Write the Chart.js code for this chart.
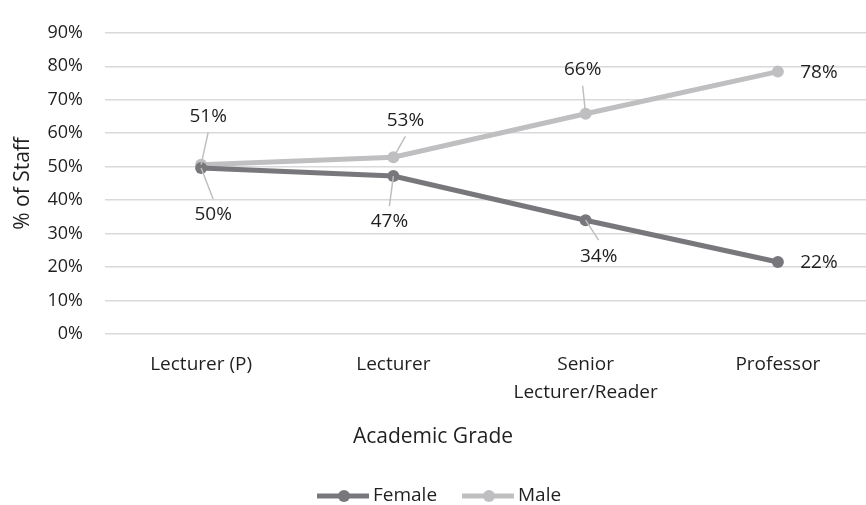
<!DOCTYPE html>
<html>
<head>
<meta charset="utf-8">
<script src="https://cdn.jsdelivr.net/npm/chart.js@4.4.0/dist/chart.umd.min.js"></script>
<style>
  html, body { margin: 0; padding: 0; background: #fff; overflow: hidden; }
  #wrap { width: 866px; height: 505px; overflow: hidden; }
</style>
</head>
<body>
<div id="wrap"><canvas id="chart" width="880" height="505"></canvas></div>
<script>
// chart data
const categories = ['Lecturer (P)', 'Lecturer', ['Senior', 'Lecturer/Reader'], 'Professor'];
const femaleValues = [49.6, 47.2, 34.0, 21.5];
const maleValues = [50.6, 52.8, 65.8, 78.4];
const yTicks = [0, 10, 20, 30, 40, 50, 60, 70, 80, 90];
const xTitle = 'Academic Grade';

const FONT = '"Open Sans", sans-serif';
const TEXT = '#1f1f1f';

// label offsets from each point (dx, dy) and whether a leader line is drawn
const labelPlacement = {
  Female: [[12, 47, true], [-4, 46, true], [13, 36, true], [41, 1, false]],
  Male: [[7, -48, true], [12, -37, true], [-3, -44, true], [41, 1, false]]
};

const pointLabels = {
  id: 'pointLabels',
  afterDatasetsDraw(chart) {
    const ctx = chart.ctx;
    ctx.save();
    ctx.font = '19px ' + FONT;
    ctx.textAlign = 'center';
    ctx.textBaseline = 'middle';
    chart.data.datasets.forEach((ds, i) => {
      const meta = chart.getDatasetMeta(i);
      meta.data.forEach((pt, j) => {
        const [dx, dy, leader] = labelPlacement[ds.label][j];
        const tx = pt.x + dx, ty = pt.y + dy;
        if (leader) {
          const edge = dy < 0 ? ty + 16 : ty - 16;
          ctx.strokeStyle = '#bfbfbf';
          ctx.lineWidth = 1.5;
          ctx.beginPath();
          ctx.moveTo(tx, edge);
          ctx.lineTo(pt.x, pt.y);
          ctx.stroke();
        }
        ctx.fillStyle = TEXT;
        ctx.fillText(Math.round(ds.data[j]) + '%', tx, ty);
      });
    });
    ctx.restore();
  }
};

// x title and legend are centred on the visible picture, not the plot
const bottomParts = {
  id: 'bottomParts',
  afterDraw(chart) {
    const ctx = chart.ctx;
    ctx.save();
    ctx.fillStyle = TEXT;
    ctx.font = '21px ' + FONT;
    ctx.textAlign = 'center';
    ctx.textBaseline = 'middle';
    ctx.fillText(xTitle, 433, 437);

    const y = 496;
    const starts = [317, 462];
    ctx.font = '19px ' + FONT;
    ctx.textAlign = 'left';
    chart.data.datasets.forEach((ds, i) => {
      const x = starts[i];
      ctx.strokeStyle = ds.borderColor;
      ctx.lineWidth = 5;
      ctx.beginPath();
      ctx.moveTo(x, y);
      ctx.lineTo(x + 52, y);
      ctx.stroke();
      ctx.fillStyle = ds.borderColor;
      ctx.beginPath();
      ctx.arc(x + 27, y, 6, 0, Math.PI * 2);
      ctx.fill();
      ctx.fillStyle = TEXT;
      ctx.fillText(ds.label, x + 56, y);
    });
    ctx.restore();
  }
};

new Chart(document.getElementById('chart'), {
  type: 'line',
  data: {
    labels: categories,
    datasets: [
      {
        label: 'Female',
        data: femaleValues,
        borderColor: '#78787c',
        backgroundColor: '#78787c',
        borderWidth: 5,
        pointRadius: 6,
        pointBorderWidth: 0,
        tension: 0
      },
      {
        label: 'Male',
        data: maleValues,
        borderColor: '#bfbfc2',
        backgroundColor: '#bfbfc2',
        borderWidth: 5,
        pointRadius: 6,
        pointBorderWidth: 0,
        tension: 0
      }
    ]
  },
  options: {
    responsive: false,
    animation: false,
    layout: { padding: { top: 22, bottom: 57, left: 0, right: 0 } },
    plugins: {
      legend: { display: false },
      tooltip: { enabled: false }
    },
    scales: {
      x: {
        offset: true,
        grid: { display: false, drawTicks: false },
        border: { display: false },
        ticks: {
          padding: 17,
          color: TEXT,
          font: { family: FONT, size: 19, lineHeight: 1.47 },
          maxRotation: 0
        },
        afterFit(scale) { scale.height = 114; }
      },
      y: {
        min: 0,
        max: 90,
        afterBuildTicks(scale) { scale.ticks = yTicks.map(v => ({ value: v })); },
        grid: { color: '#d9d9d9', lineWidth: 1.5, drawTicks: false },
        border: { display: false },
        ticks: {
          padding: 22,
          color: TEXT,
          font: { family: FONT, size: 18 },
          callback: v => v + '%'
        },
        title: {
          display: true,
          text: '% of Staff',
          color: TEXT,
          font: { family: FONT, size: 21 },
          padding: { top: 10, bottom: 0 }
        },
        afterFit(scale) { scale.width = 105; }
      }
    }
  },
  plugins: [pointLabels, bottomParts]
});
</script>
</body>
</html>
